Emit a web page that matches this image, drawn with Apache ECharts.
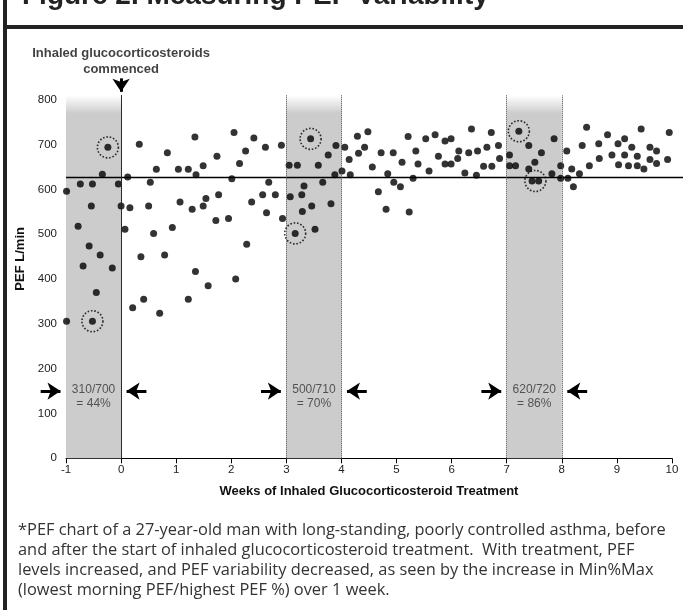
<!DOCTYPE html>
<html><head><meta charset="utf-8">
<script src="https://cdn.jsdelivr.net/npm/echarts@6/dist/echarts.min.js"></script>
<style>html,body{margin:0;padding:0;background:#fff}#c{width:683px;height:610px}</style>
</head><body><div id="c"></div>
<script>
// ---- data ----
const weeks = [-0.99,-0.99,-0.78,-0.74,-0.69,-0.58,-0.54,-0.52,-0.52,-0.45,-0.38,-0.34,-0.24,-0.16,-0.05,
  0.00,0.07,0.12,0.16,0.21,0.33,0.36,0.41,0.50,0.53,0.59,0.64,0.70,0.79,0.84,0.93,
  1.04,1.07,1.22,1.22,1.29,1.34,1.35,1.36,1.49,1.49,1.54,1.58,1.72,1.74,1.77,1.95,
  2.01,2.05,2.08,2.15,2.26,2.28,2.37,2.41,2.57,2.62,2.64,2.68,2.80,2.91,2.93,
  3.05,3.07,3.16,3.20,3.28,3.29,3.32,3.44,3.46,3.52,3.58,3.66,3.76,3.81,3.88,3.90,
  4.01,4.06,4.14,4.16,4.29,4.31,4.42,4.48,4.56,4.67,4.72,4.81,4.84,4.94,4.95,
  5.07,5.10,5.21,5.23,5.30,5.35,5.39,5.53,5.59,5.70,5.76,5.88,5.88,5.99,5.99,
  6.11,6.13,6.24,6.31,6.36,6.45,6.47,6.58,6.64,6.72,6.73,6.85,6.87,
  7.05,7.05,7.16,7.22,7.40,7.40,7.46,7.51,7.58,7.63,7.82,7.86,7.98,7.98,
  8.09,8.11,8.18,8.21,8.32,8.37,8.45,8.50,8.67,8.68,8.83,8.91,
  9.02,9.03,9.14,9.14,9.21,9.27,9.37,9.37,9.44,9.49,9.60,9.60,9.72,9.72,9.92,9.95];
const pef = [596,306,518,612,429,474,563,612,306,370,454,634,694,425,612,
  563,511,628,559,336,701,450,355,563,616,502,645,324,454,682,515,
  645,572,645,355,556,717,417,633,653,563,580,385,531,674,588,535,
  624,727,400,658,686,478,572,715,588,694,548,616,588,699,535,
  654,584,502,654,588,551,608,713,563,511,654,616,677,568,633,698,
  641,694,667,633,719,681,694,729,650,595,682,556,635,682,616,
  606,661,718,550,625,686,657,713,641,722,674,708,657,713,657,
  669,686,637,682,735,632,686,652,694,727,652,698,669,
  677,653,653,730,698,646,619,661,619,682,635,713,653,625,
  686,625,646,606,635,698,739,653,702,669,722,677,
  702,655,713,677,653,694,674,653,735,646,694,667,686,658,667,727];
const circledWeeks = [-0.24,-0.52,3.44,3.16,7.22,7.52];
const circledPef = [694,306,713,502,730,619];
const bandStart = [-1,3,7];
const bandEnd = [0,4,8];
const bandText = ['310/700\n= 44%','500/710\n= 70%','620/720\n= 86%'];
const referenceLevel = 627;
const arrowLevel = 150;
const bandTextLevel = 137;
const treatmentStart = 0;
const xTicks = [-1,0,1,2,3,4,5,6,7,8,9,10];
const yTickLabels = [0,100,200,300,400,500,600,700,800];
const yTicks = [0,50,100,150,200,250,300,350,400,450,500,550,600,650,700,750,800];
const titleText = 'Figure 2. Measuring PEF Variability*';
const captionText = '*PEF chart of a 27-year-old man with long-standing, poorly controlled asthma, before\nand after the start of inhaled glucocorticosteroid treatment.  With treatment, PEF\nlevels increased, and PEF variability decreased, as seen by the increase in Min%Max\n(lowest morning PEF/highest PEF %) over 1 week.';

const FONT = 'Liberation Sans, Arial, sans-serif';
const scatterData = weeks.map((w,i)=>[w,pef[i]]);
const circleData = circledWeeks.map((w,i)=>[w,circledPef[i]]);

const bandAreas = bandStart.map((s,i)=>[{xAxis:s,yAxis:0},{xAxis:bandEnd[i],yAxis:810}]);
const edgeLines = [];
bandStart.forEach((s,i)=>{ if(s!==-1) edgeLines.push({xAxis:s}); edgeLines.push({xAxis:bandEnd[i]}); });

const arrowLines = [];
bandStart.forEach((s,i)=>{
  arrowLines.push({coords:[[s-0.46,arrowLevel],[s-0.1,arrowLevel]]});
  arrowLines.push({coords:[[bandEnd[i]+0.46,arrowLevel],[bandEnd[i]+0.1,arrowLevel]]});
});
arrowLines.push({coords:[[treatmentStart,848],[treatmentStart,818]]});

const chart = echarts.init(document.getElementById('c'), null, {renderer:'canvas'});
chart.setOption({
  animation:false,
  textStyle:{fontFamily:FONT},
  grid:{left:66,right:11,top:95.4,bottom:151.7,containLabel:false},
  xAxis:{type:'value',min:-1,max:10,interval:1,
    axisLine:{lineStyle:{color:'#000',width:1}},
    axisTick:{show:true,length:5,lineStyle:{color:'#000'},customValues:xTicks},
    axisLabel:{color:'#222',fontSize:11.5,margin:6,customValues:xTicks},
    splitLine:{show:false},
    name:'Weeks of Inhaled Glucocorticosteroid Treatment',nameLocation:'middle',nameGap:27,
    nameTextStyle:{fontWeight:'bold',fontSize:13,color:'#111'}},
  yAxis:{type:'value',min:0,max:810,
    axisLine:{show:true,lineStyle:{color:'#000',width:1}},
    axisTick:{show:true,length:5,lineStyle:{color:'#000'},customValues:yTicks},
    axisLabel:{color:'#222',fontSize:11.5,margin:9,customValues:yTickLabels},
    splitLine:{show:false},
    name:'PEF L/min',nameLocation:'middle',nameGap:36,nameRotate:90,
    nameTextStyle:{fontWeight:'bold',fontSize:13,color:'#111',padding:[0,0,0,36]}},
  series:[
    {type:'scatter',name:'bands',data:[],silent:true,z:1,
      markArea:{silent:true,
        itemStyle:{color:new echarts.graphic.LinearGradient(0,0,0,1,[
          {offset:0,color:'#ffffff'},{offset:0.05,color:'#cccccc'},{offset:1,color:'#cccccc'}])},
        data:bandAreas},
      markLine:{silent:true,symbol:['none','none'],label:{show:false},
        lineStyle:{color:'#444',type:'dotted',width:1},
        data:edgeLines}},
    {type:'lines',name:'reference',coordinateSystem:'cartesian2d',silent:true,z:2,clip:false,
      symbol:['none','none'],lineStyle:{color:'#000',type:'solid',width:1.3,opacity:1},
      data:[{coords:[[-1,referenceLevel],[10.2,referenceLevel]]}]},
    {type:'lines',name:'arrows',coordinateSystem:'cartesian2d',silent:true,z:5,clip:false,
      symbol:['none','arrow'],symbolSize:[13,13],
      lineStyle:{color:'#000',type:'solid',width:3,opacity:1},
      data:arrowLines},
    {type:'scatter',name:'PEF',data:scatterData,symbol:'circle',symbolSize:7,
      itemStyle:{color:'#000'},z:4},
    {type:'scatter',name:'circled',data:circleData,symbol:'circle',symbolSize:21,
      itemStyle:{color:'rgba(0,0,0,0)',borderColor:'#000',borderWidth:1.6,borderType:[1.6,1.8]},z:4},
    {type:'scatter',name:'bandText',symbolSize:0,silent:true,z:6,
      data:bandStart.map((s,i)=>({value:[(s+bandEnd[i])/2,bandTextLevel],
        label:{show:true,formatter:bandText[i],position:'inside',color:'#333',fontSize:12,lineHeight:14,align:'center'}}))},
    {type:'scatter',name:'startText',symbolSize:0,silent:true,z:6,clip:false,
      data:[{value:[treatmentStart,848],label:{show:true,position:'top',distance:0,offset:[0,-1],
        formatter:'Inhaled glucocorticosteroids\ncommenced',fontWeight:'bold',fontSize:13,lineHeight:16,color:'#111',align:'center'}}]}
  ],
  graphic:[
    {type:'text',left:22,top:-18,style:{text:titleText,font:'bold 28px '+FONT,fill:'#222'}},
    {type:'rect',left:3,top:0,shape:{width:4,height:610},style:{fill:'#222'}},
    {type:'rect',left:3,top:25,shape:{width:680,height:4},style:{fill:'#222'}},
    {type:'text',left:18,top:520,style:{text:captionText,font:'16.4px Open Sans, '+FONT,fill:'#333',lineHeight:20}}
  ]
});
</script></body></html>
